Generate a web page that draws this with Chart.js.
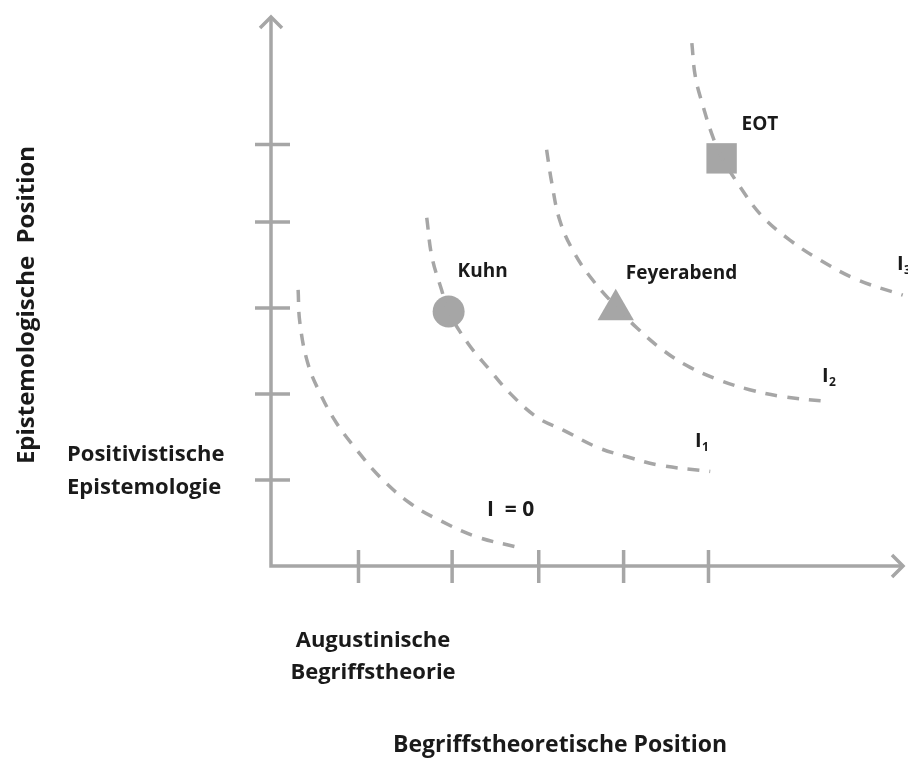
<!DOCTYPE html>
<html>
<head>
<meta charset="utf-8">
<script src="https://cdn.jsdelivr.net/npm/chart.js@4.4.1/dist/chart.umd.min.js"></script>
<style>
  html, body { margin: 0; background: #fff; }
  canvas { display: block; }
</style>
</head>
<body>
<canvas id="chart" width="908" height="758"></canvas>
<script>
// tick positions on both axes (hand drawn, slightly uneven)
const xTicks = [1, 2.07, 3.06, 4.03, 5];
const yTicks = [1, 2, 3, 4, 4.9];

// indifference curves
const i0X = [0.31, 0.33, 0.42, 0.56, 0.75, 0.98, 1.25, 1.59, 1.93, 2.35, 2.81];
const i0Y = [3.21, 2.83, 2.36, 2.01, 1.66, 1.35, 1.03, 0.73, 0.53, 0.34, 0.22];

const i1X = [1.78, 1.84, 1.95, 2.03, 2.25, 2.50, 2.73, 3.04, 3.34, 3.73, 4.07, 4.45, 5.02];
const i1Y = [4.05, 3.59, 3.21, 2.96, 2.59, 2.28, 2.01, 1.73, 1.58, 1.38, 1.27, 1.17, 1.10];

const i2X = [3.15, 3.21, 3.30, 3.45, 3.65, 3.93, 4.18, 4.48, 4.79, 5.13, 5.47, 5.85, 6.39];
const i2Y = [4.84, 4.45, 4.02, 3.67, 3.36, 3.03, 2.77, 2.51, 2.31, 2.16, 2.05, 1.97, 1.91];

const i3X = [4.81, 4.85, 4.94, 5.05, 5.15, 5.36, 5.62, 5.93, 6.27, 6.70, 7.22];
const i3Y = [6.08, 5.69, 5.34, 4.99, 4.76, 4.41, 4.06, 3.79, 3.56, 3.33, 3.15];

// positions of the three authors
const names = ['Kuhn', 'Feyerabend', 'EOT'];
const posX = [2.03, 3.94, 5.15];
const posY = [2.96, 2.98, 4.74];
const shapes = ['circle', 'triangle', 'rect'];

const gray = '#a6a6a6';
const ink = '#1a1a1a';
const font = "'Open Sans', sans-serif";

function pts(xs, ys) {
  return xs.map((v, i) => ({ x: v, y: ys[i] }));
}

function curve(xs, ys) {
  return {
    data: pts(xs, ys),
    showLine: true,
    borderColor: gray,
    borderWidth: 3.5,
    borderDash: [12, 10],
    tension: 0.4,
    pointRadius: 0,
    clip: false
  };
}

const markers = names.map((n, i) => ({
  label: n,
  data: [{ x: posX[i], y: posY[i] }],
  pointStyle: shapes[i],
  pointRadius: [16, 21, 21.5][i],
  backgroundColor: gray,
  borderColor: gray,
  borderWidth: 0,
  clip: false
}));

const axesPlugin = {
  id: 'axes',
  beforeDatasetsDraw(chart) {
    const { ctx, scales: { x, y } } = chart;
    const x0 = x.getPixelForValue(0), y0 = y.getPixelForValue(0);
    const xEnd = x.getPixelForValue(x.max), yEnd = y.getPixelForValue(y.max);
    ctx.save();
    ctx.strokeStyle = gray;
    ctx.lineWidth = 3.5;
    ctx.beginPath();
    ctx.moveTo(x0, y0); ctx.lineTo(x0, yEnd + 2);
    ctx.moveTo(x0 - 1.75, y0); ctx.lineTo(xEnd - 2, y0);
    ctx.stroke();
    // arrow heads
    ctx.beginPath();
    ctx.moveTo(x0 - 11, yEnd + 13); ctx.lineTo(x0, yEnd + 2); ctx.lineTo(x0 + 11, yEnd + 13);
    ctx.moveTo(xEnd - 13, y0 - 11); ctx.lineTo(xEnd - 2, y0); ctx.lineTo(xEnd - 13, y0 + 11);
    ctx.stroke();
    // ticks
    ctx.beginPath();
    xTicks.forEach(t => {
      const px = x.getPixelForValue(t);
      ctx.moveTo(px, y0 - 16); ctx.lineTo(px, y0 + 17);
    });
    yTicks.forEach(t => {
      const py = y.getPixelForValue(t);
      ctx.moveTo(x0 - 16, py); ctx.lineTo(x0 + 19, py);
    });
    ctx.stroke();
    ctx.restore();
  },
  afterDraw(chart) {
    const { ctx, scales: { x, y } } = chart;
    ctx.save();
    ctx.fillStyle = ink;
    ctx.textBaseline = 'middle';

    // author names next to their markers
    ctx.font = `bold 19px ${font}`;
    ctx.textAlign = 'left';
    const offs = [[9, -40], [10, -36], [20, -34]];
    names.forEach((n, i) => {
      ctx.fillText(n, x.getPixelForValue(posX[i]) + offs[i][0], y.getPixelForValue(posY[i]) + offs[i][1]);
    });

    // curve labels
    const sub = (px, py, s) => {
      ctx.font = `bold 20px ${font}`;
      ctx.fillText('I', px, py);
      ctx.font = `bold 12px ${font}`;
      ctx.fillText(s, px + 7, py + 7);
    };
    ctx.font = `bold 21px ${font}`;
    ctx.fillText('I  = 0', 487, 510);
    sub(695, 441, '1');
    sub(822, 376, '2');
    sub(897, 264, '3');

    // category labels
    ctx.font = `bold 22px ${font}`;
    ctx.fillText('Positivistische', 67, 455);
    ctx.fillText('Epistemologie', 67, 488);
    ctx.textAlign = 'center';
    ctx.fillText('Augustinische', 373, 641);
    ctx.fillText('Begriffstheorie', 373, 673);

    // axis titles
    ctx.font = `bold 23px ${font}`;
    ctx.fillText('Begriffstheoretische Position', 560, 745);
    ctx.font = `bold 24px ${font}`;
    ctx.translate(27, 305);
    ctx.rotate(-Math.PI / 2);
    ctx.fillText('Epistemologische  Position', 0, 0);
    ctx.restore();
  }
};

new Chart(document.getElementById('chart'), {
  type: 'scatter',
  data: {
    datasets: [
      curve(i0X, i0Y),
      curve(i1X, i1Y),
      curve(i2X, i2Y),
      curve(i3X, i3Y),
      ...markers
    ]
  },
  options: {
    responsive: false,
    animation: false,
    layout: { autoPadding: false, padding: { left: 271, top: 15, right: 3, bottom: 192 } },
    scales: {
      x: { type: 'linear', min: 0, max: 7.246, display: false },
      y: { type: 'linear', min: 0, max: 6.407, display: false }
    },
    plugins: {
      legend: { display: false },
      tooltip: { enabled: false }
    }
  },
  plugins: [axesPlugin]
});
</script>
</body>
</html>
